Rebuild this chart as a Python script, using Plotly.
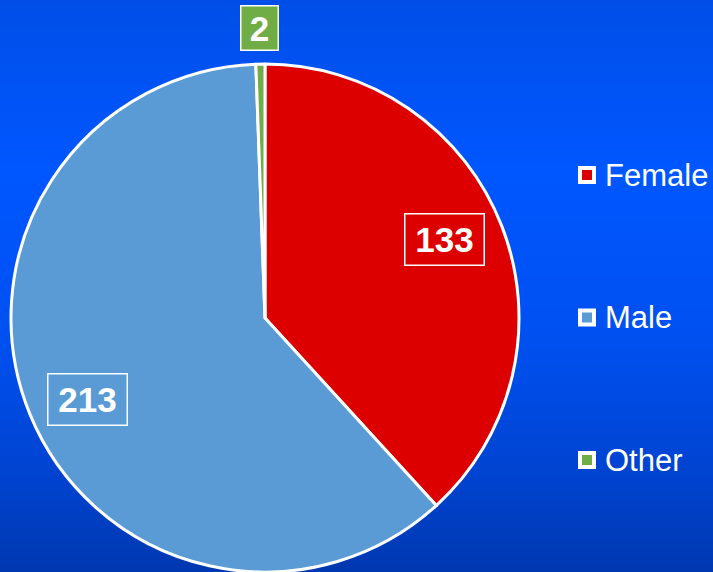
import numpy as np
import plotly.graph_objects as go

# ---- data ----
labels = ["Female", "Male", "Other"]
values = [133, 213, 2]
colors = ["#DD0000", "#5B9BD5", "#70AD47"]

W, H = 713, 572
CX, CY, R = 265, 318, 254  # pie centre / radius in pixels (layout)

fig = go.Figure()
fig.add_trace(go.Pie(
    labels=labels, values=values, sort=False, direction="clockwise", rotation=0,
    marker=dict(colors=colors, line=dict(color="white", width=3)),
    textinfo="none", showlegend=False,
    domain=dict(x=[(CX - R) / W, (CX + R) / W], y=[(H - CY - R) / H, (H - CY + R) / H]),
))

# ---- background gradient (layout styling) ----
stops = [(0.0, (0, 78, 232)), (0.3, (0, 87, 255)), (0.6, (0, 80, 240)), (0.85, (0, 66, 205)), (1.0, (0, 56, 176))]
shapes = []
N = 80
for i in range(N):
    t = (i + 0.5) / N
    for j in range(len(stops) - 1):
        if stops[j][0] <= t <= stops[j + 1][0]:
            a, ca = stops[j]; b, cb = stops[j + 1]
            f = (t - a) / (b - a)
            c = tuple(int(round(ca[k] + (cb[k] - ca[k]) * f)) for k in range(3))
            break
    shapes.append(dict(type="rect", xref="paper", yref="paper", x0=0, x1=1,
                       y0=1 - (i + 1) / N - 0.002, y1=1 - i / N + 0.002,
                       fillcolor="rgb(%d,%d,%d)" % c, line=dict(width=0), layer="below"))

# ---- slice value labels positioned from data angles ----
total = sum(values)
annotations = []
cum = 0
LABEL_ROT = np.deg2rad(-2.5)
for lab, v, col in zip(labels, values, colors):
    mid = (cum + v / 2) / total * 2 * np.pi
    cum += v
    frac = v / total
    if frac > 0.05:
        rr = 0.77 * R
        mid += LABEL_ROT
    else:
        rr = 1.14 * R
    px = CX + rr * np.sin(mid)
    py = CY - rr * np.cos(mid)
    txt = str(v)
    wbox = 76 if len(txt) > 1 else 34
    hbox = 48 if len(txt) > 1 else 41
    annotations.append(dict(x=px / W, y=1 - py / H, xref="paper", yref="paper",
                            text="<b>%s</b>" % txt, showarrow=False,
                            font=dict(family="Arial, Liberation Sans", size=35, color="white"),
                            bgcolor=col, bordercolor="white", borderwidth=1.5, borderpad=1,
                            width=wbox, height=hbox, xanchor="center", yanchor="middle"))

# ---- custom legend ----
leg_y = [175, 317.5, 460]
for lab, col, ly in zip(labels, colors, leg_y):
    shapes.append(dict(type="rect", xref="paper", yref="paper",
                       x0=578 / W, x1=596 / W, y0=1 - (ly + 9) / H, y1=1 - (ly - 9) / H,
                       fillcolor="white", line=dict(width=0)))
    shapes.append(dict(type="rect", xref="paper", yref="paper",
                       x0=582 / W, x1=592 / W, y0=1 - (ly + 5) / H, y1=1 - (ly - 5) / H,
                       fillcolor=col, line=dict(width=0)))
    annotations.append(dict(x=603 / W, y=1 - ly / H, xref="paper", yref="paper", text=lab,
                            showarrow=False, xanchor="left", yanchor="middle",
                            font=dict(family="Arial, Liberation Sans", size=31, color="white")))

fig.update_layout(
    width=W, height=H, margin=dict(l=0, r=0, t=0, b=0),
    paper_bgcolor="#0052F0", plot_bgcolor="#0052F0",
    shapes=shapes, annotations=annotations, showlegend=False,
)
fig.write_html("out.html", config={"displayModeBar": False},
               post_script="document.body.style.margin='0';document.body.style.overflow='hidden';")
